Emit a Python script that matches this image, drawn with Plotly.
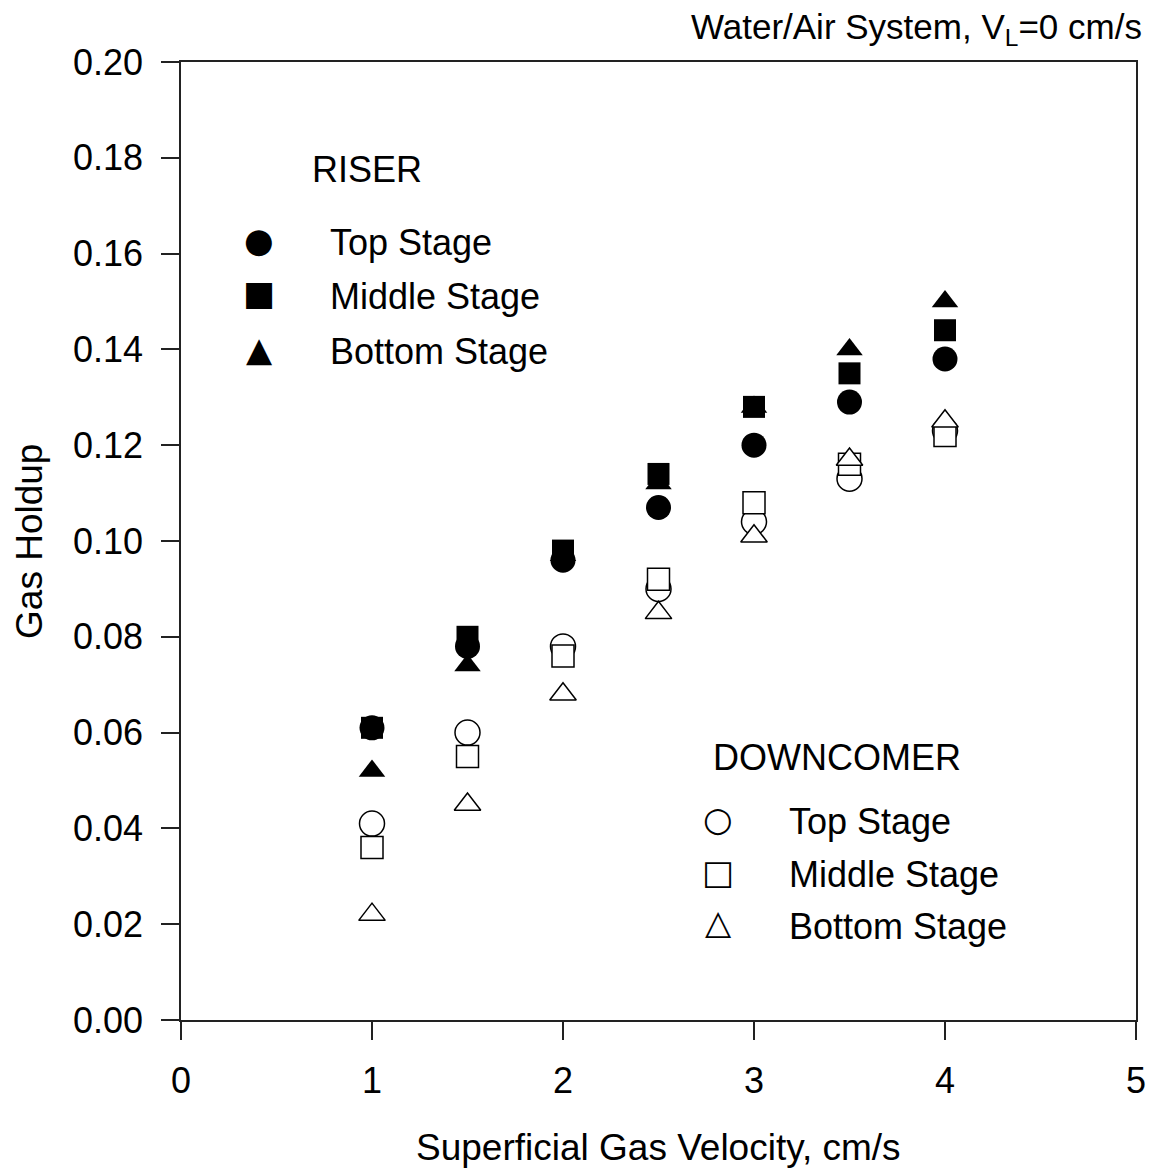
import plotly.graph_objects as go

velocity = [1.0, 1.5, 2.0, 2.5, 3.0, 3.5, 4.0]

riser_top = [0.061, 0.078, 0.096, 0.107, 0.120, 0.129, 0.138]
riser_middle = [0.061, 0.080, 0.098, 0.114, 0.128, 0.135, 0.144]
riser_bottom = [0.052, 0.074, 0.097, 0.112, 0.128, 0.140, 0.150]

down_top = [0.041, 0.060, 0.078, 0.090, 0.104, 0.113, 0.123]
down_middle = [0.036, 0.055, 0.076, 0.092, 0.108, 0.116, 0.122]
down_bottom = [0.022, 0.045, 0.068, 0.085, 0.101, 0.117, 0.125]

stage_names = ["Top Stage", "Middle Stage", "Bottom Stage"]
group_titles = ["RISER", "DOWNCOMER"]
x_title = "Superficial Gas Velocity, cm/s"
y_title = "Gas Holdup"
chart_title = "Water/Air System, V<sub>L</sub>=0 cm/s"

y_ticks = [0.00, 0.02, 0.04, 0.06, 0.08, 0.10, 0.12, 0.14, 0.16, 0.18, 0.20]
x_ticks = [0, 1, 2, 3, 4, 5]

FONT = "Liberation Sans, Arial, sans-serif"
GLYPH_FONT = "DejaVu Sans"
SIZES = {"circle": 25, "square": 22, "triangle-up": 23}

fig = go.Figure()


def add(y, symbol, name, filled):
    fig.add_trace(go.Scatter(
        x=velocity, y=y, mode="markers", name=name, showlegend=False,
        marker=dict(
            symbol=symbol, size=SIZES[symbol],
            color="black" if filled else "white",
            line=dict(color="black", width=0 if filled else 1.5),
        ),
    ))


add(riser_top, "circle", "Riser " + stage_names[0], True)
add(riser_middle, "square", "Riser " + stage_names[1], True)
add(riser_bottom, "triangle-up", "Riser " + stage_names[2], True)
add(down_top, "circle", "Downcomer " + stage_names[0], False)
add(down_middle, "square", "Downcomer " + stage_names[1], False)
add(down_bottom, "triangle-up", "Downcomer " + stage_names[2], False)

axis_common = dict(
    showline=True, linecolor="#222222", linewidth=1.5, mirror=True,
    ticks="outside", ticklen=18, tickwidth=1.5, tickcolor="#222222",
    showgrid=False, zeroline=False,
    tickfont=dict(family=FONT, size=36, color="black"),
)

fig.update_layout(
    width=1158, height=1169,
    margin=dict(l=181, r=16, t=62, b=149),
    paper_bgcolor="white", plot_bgcolor="white",
    font=dict(family=FONT, color="black"),
    showlegend=False,
    xaxis=dict(range=[0, 5], tickvals=x_ticks, ticklabelstandoff=10, **axis_common),
    yaxis=dict(range=[0, 0.2], tickvals=y_ticks, tickformat=".2f",
               ticklabelstandoff=11, **axis_common),
)


def text_ann(text, x, y, size, family=FONT, xanchor="left", angle=0):
    fig.add_annotation(text=text, xref="paper", yref="paper", x=x, y=y,
                       xanchor=xanchor, yanchor="middle", showarrow=False,
                       textangle=angle,
                       font=dict(family=family, size=size, color="black"))


# axis titles
text_ann(x_title, 0.5, -0.1336, 37, xanchor="center")
text_ann(y_title, -0.1592, 0.5, 37, xanchor="center", angle=-90)

# key
riser_glyphs = ["\u25CF", "\u25A0", "\u25B2"]
down_glyphs = ["\u25CB", "\u25A1", "\u25B3"]

riser_glyph_rows = [0.8137, 0.7589, 0.7000]
riser_text_rows = [0.8116, 0.7557, 0.6978]
down_glyph_rows = [0.2098, 0.1540, 0.1018]
down_text_rows = [0.2072, 0.1514, 0.0976]

text_ann(group_titles[0], 0.1353, 0.8873, 36)
for g, n, gy, ty in zip(riser_glyphs, stage_names, riser_glyph_rows, riser_text_rows):
    text_ann(g, 0.0817, gy, 34, GLYPH_FONT, "center")
    text_ann(n, 0.1540, ty, 36)

text_ann(group_titles[1], 0.5546, 0.2745, 36)
for g, n, gy, ty in zip(down_glyphs, stage_names, down_glyph_rows, down_text_rows):
    text_ann(g, 0.5624, gy, 34, GLYPH_FONT, "center")
    text_ann(n, 0.6347, ty, 36)

fig.add_annotation(
    text=chart_title,
    xref="paper", yref="paper", x=1.0083, y=1.034,
    xanchor="right", yanchor="middle", showarrow=False,
    font=dict(family=FONT, size=35, color="black"),
)

fig.write_html("out.html")
